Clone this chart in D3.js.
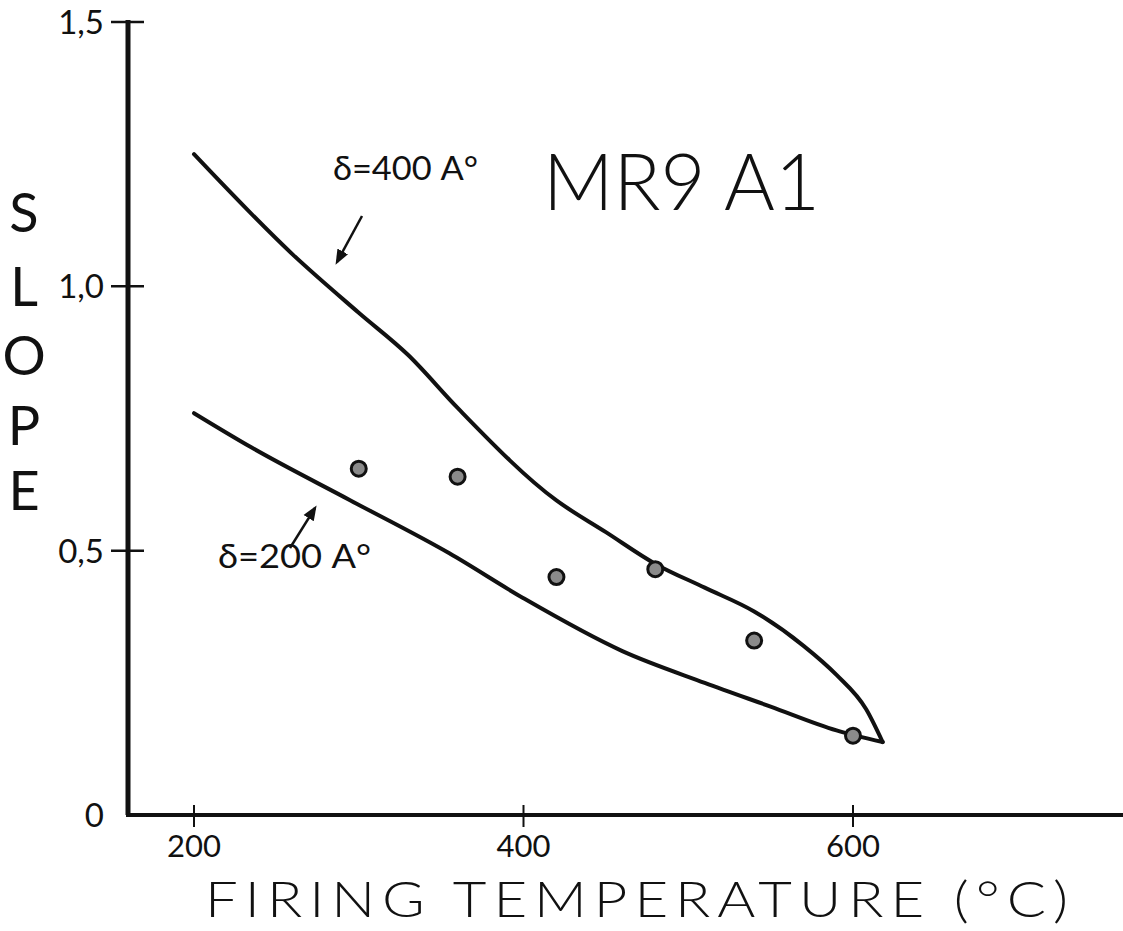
<!DOCTYPE html>
<html>
<head>
<meta charset="utf-8">
<script src="https://cdn.jsdelivr.net/npm/d3@7"></script>
<style>
  body { margin: 0; background: #fff; }
  svg text { font-family: Lato, "DejaVu Sans", sans-serif; fill: #111; }
</style>
</head>
<body>
<svg id="chart" width="1123" height="931"></svg>
<script>
// Measured points (firing temperature, slope)
var pointTemps = [300, 360, 420, 480, 540, 600];
var pointSlopes = [0.655, 0.64, 0.45, 0.465, 0.33, 0.15];

// Curve for delta = 400 A
var upperTemps = [200, 260, 300, 330, 360, 420, 450, 480, 510, 540, 570, 590, 608, 618];
var upperSlopes = [1.25, 1.06, 0.95, 0.87, 0.77, 0.595, 0.535, 0.475, 0.43, 0.385, 0.32, 0.265, 0.2, 0.138];

// Curve for delta = 200 A
var lowerTemps = [200, 235, 295, 355, 400, 460, 510, 550, 590, 618];
var lowerSlopes = [0.76, 0.695, 0.595, 0.495, 0.41, 0.31, 0.25, 0.205, 0.16, 0.138];

var xTicks = [200, 400, 600];
var yTicks = [0, 0.5, 1.0, 1.5];
var yTickLabels = ['0', '0,5', '1,0', '1,5'];

var svg = d3.select('#chart');

// Scales
var x = d3.scaleLinear().domain([200, 600]).range([194, 853]);
var y = d3.scaleLinear().domain([0, 1.5]).range([815, 22]);

var xMin = x.invert(128), xMax = x.invert(1123);

// Axis lines
svg.append('line')
    .attr('x1', x(xMin)).attr('x2', x(xMin))
    .attr('y1', y(0)).attr('y2', y(1.5) - 2)
    .attr('stroke', '#111').attr('stroke-width', 5);

svg.append('line')
    .attr('x1', x(xMin) - 2).attr('x2', x(xMax))
    .attr('y1', y(0)).attr('y2', y(0))
    .attr('stroke', '#111').attr('stroke-width', 4);

// Y ticks (small crosses)
svg.append('g').selectAll('line')
    .data(yTicks.slice(1))
    .enter().append('line')
    .attr('x1', x(xMin) - 17).attr('x2', x(xMin) + 16)
    .attr('y1', function(d) { return y(d); })
    .attr('y2', function(d) { return y(d); })
    .attr('stroke', '#111').attr('stroke-width', 2.5);

svg.append('g').selectAll('text')
    .data(yTicks)
    .enter().append('text')
    .attr('x', 104)
    .attr('y', function(d) { return y(d) + 12; })
    .attr('text-anchor', 'end')
    .style('font-size', '33px')
    .text(function(d, i) { return yTickLabels[i]; });

// X ticks
svg.append('g').selectAll('line')
    .data(xTicks)
    .enter().append('line')
    .attr('x1', function(d) { return x(d); })
    .attr('x2', function(d) { return x(d); })
    .attr('y1', y(0) - 10).attr('y2', y(0) + 12)
    .attr('stroke', '#111').attr('stroke-width', 2);

svg.append('g').selectAll('text')
    .data(xTicks)
    .enter().append('text')
    .attr('x', function(d) { return x(d); })
    .attr('y', 857)
    .attr('text-anchor', 'middle')
    .style('font-size', '31px')
    .text(function(d) { return d; });

// Axis titles
svg.append('text')
    .attr('x', 205).attr('y', 917)
    .attr('textLength', 870)
    .attr('lengthAdjust', 'spacingAndGlyphs')
    .style('font-size', '50px')
    .style('font-weight', 300)
    .style('letter-spacing', '6px')
    .text('FIRING TEMPERATURE (°C)');

var slopeLetters = ['S', 'L', 'O', 'P', 'E'];
var letterY = [232, 306, 375, 445, 510];
svg.append('g').selectAll('text')
    .data(slopeLetters)
    .enter().append('text')
    .attr('x', 24)
    .attr('y', function(d, i) { return letterY[i]; })
    .attr('text-anchor', 'middle')
    .style('font-size', '54px')
    .text(function(d) { return d; });

// Title
svg.append('text')
    .attr('x', 543).attr('y', 210)
    .attr('textLength', 277)
    .attr('lengthAdjust', 'spacingAndGlyphs')
    .style('font-size', '78px')
    .style('font-weight', 300)
    .text('MR9 A1');

// Curves
var line = d3.line()
    .x(function(d) { return x(d[0]); })
    .y(function(d) { return y(d[1]); })
    .curve(d3.curveMonotoneX);

svg.append('path')
    .datum(d3.zip(upperTemps, upperSlopes))
    .attr('d', line)
    .attr('fill', 'none')
    .attr('stroke', '#111')
    .attr('stroke-width', 4)
    .attr('stroke-linecap', 'round');

svg.append('path')
    .datum(d3.zip(lowerTemps, lowerSlopes))
    .attr('d', line)
    .attr('fill', 'none')
    .attr('stroke', '#111')
    .attr('stroke-width', 4)
    .attr('stroke-linecap', 'round');

// Data points
svg.append('g').selectAll('circle')
    .data(d3.zip(pointTemps, pointSlopes))
    .enter().append('circle')
    .attr('cx', function(d) { return x(d[0]); })
    .attr('cy', function(d) { return y(d[1]); })
    .attr('r', 7.5)
    .attr('fill', '#8a8a8a')
    .attr('stroke', '#111')
    .attr('stroke-width', 3);

// Annotations with arrows
svg.append('defs').append('marker')
    .attr('id', 'arrow')
    .attr('viewBox', '0 0 10 10')
    .attr('refX', 8).attr('refY', 5)
    .attr('markerWidth', 6).attr('markerHeight', 6)
    .attr('orient', 'auto')
    .append('path')
    .attr('d', 'M0,1 L10,5 L0,9 z')
    .attr('fill', '#111');

svg.append('text')
    .attr('x', 333).attr('y', 180)
    .attr('textLength', 145)
    .attr('lengthAdjust', 'spacingAndGlyphs')
    .style('font-size', '33px')
    .text('δ=400 A°');

svg.append('line')
    .attr('x1', 362).attr('y1', 216)
    .attr('x2', 337).attr('y2', 262)
    .attr('stroke', '#111').attr('stroke-width', 2.5)
    .attr('marker-end', 'url(#arrow)');

svg.append('text')
    .attr('x', 218).attr('y', 568)
    .attr('textLength', 153)
    .attr('lengthAdjust', 'spacingAndGlyphs')
    .style('font-size', '33px')
    .text('δ=200 A°');

svg.append('line')
    .attr('x1', 290).attr('y1', 548)
    .attr('x2', 315).attr('y2', 508)
    .attr('stroke', '#111').attr('stroke-width', 2.5)
    .attr('marker-end', 'url(#arrow)');
</script>
</body>
</html>
